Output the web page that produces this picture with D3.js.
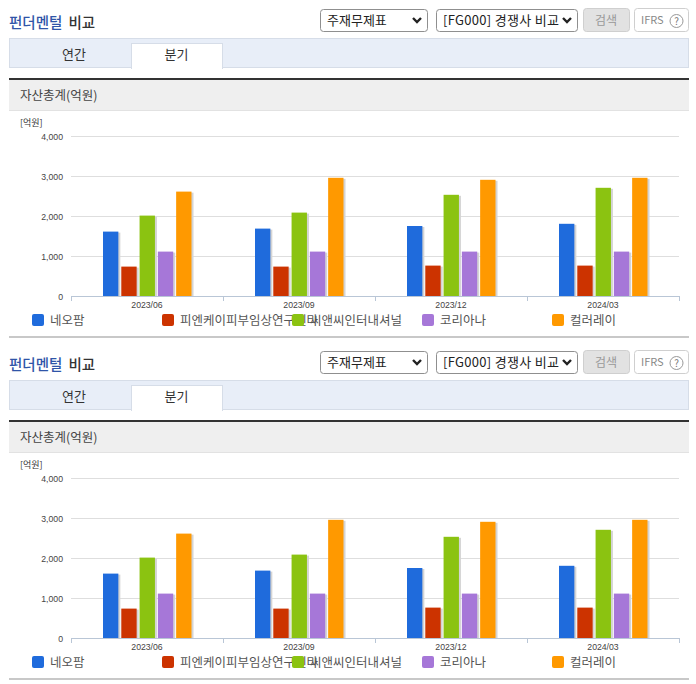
<!DOCTYPE html>
<html>
<head>
<meta charset="utf-8">
<script src="https://cdn.jsdelivr.net/npm/d3@7"></script>
<style>
  html, body { margin: 0; padding: 0; background: #fff; }
  svg { display: block; }
  text { font-family: "Noto Sans CJK KR", "Noto Sans", sans-serif; }
  .axis path, .axis line { stroke: none; }
</style>
</head>
<body>
<div id="chart-div"></div>
<script>
var periods = ["2023/06", "2023/09", "2023/12", "2024/03"];
var companies = ["네오팜", "피엔케이피부임상연구센타", "씨앤씨인터내셔널", "코리아나", "컬러레이"];
var colors = ["#1f6bdc", "#cc3300", "#8bc311", "#a677d8", "#ff9900"];

var neopharm = [1610, 1685, 1750, 1805];
var pnk = [735, 735, 760, 760];
var cnc = [2010, 2085, 2530, 2705];
var coreana = [1110, 1110, 1110, 1110];
var coloray = [2610, 2955, 2905, 2955];
var series = [neopharm, pnk, cnc, coreana, coloray];

var y_ticks = [0, 1000, 2000, 3000, 4000];
var panel_offsets = [0, 342];

var fn = {};
var vars = {};

vars.x_scale = d3.scaleBand().domain(periods).range([71, 679]);
vars.x_inner = d3.scaleBand().domain(d3.range(companies.length))
  .range([32, 120.5]).paddingInner(0.16);
vars.y_scale = d3.scaleLinear().domain([0, 4000]).range([296, 136]);

fn.draw_select = function(g, x, w, label, spacing) {
  g.append("rect").attr("x", x + 0.5).attr("y", 9.5).attr("width", w).attr("height", 22)
    .attr("rx", 3).attr("fill", "#fff").attr("stroke", "#8f8f8f");
  g.append("text").attr("x", x + 7).attr("y", 25).attr("font-size", 13).attr("fill", "#222")
    .attr("letter-spacing", spacing).text(label);
  // select arrow
  g.append("path")
    .attr("d", "M" + (x + w - 14) + ",18 l4,4 l4,-4")
    .attr("fill", "none").attr("stroke", "#222").attr("stroke-width", 2.4);
};

fn.draw_header = function(g) {
  var title = g.append("text").attr("x", 9).attr("y", 28).attr("font-size", 14.5).attr("font-weight", 500);
  title.append("tspan").attr("fill", "#2f55a8").text("펀더멘털");
  title.append("tspan").attr("fill", "#333").attr("dx", 6).text("비교");

  fn.draw_select(g, 320, 107, "주재무제표", 0);
  fn.draw_select(g, 436, 141, "[FG000] 경쟁사 비교", 0.3);

  g.append("rect").attr("x", 583.5).attr("y", 8.5).attr("width", 46).attr("height", 23)
    .attr("rx", 3).attr("fill", "#e2e2e2").attr("stroke", "#cfcfcf");
  g.append("text").attr("x", 606).attr("y", 25).attr("text-anchor", "middle")
    .attr("font-size", 12).attr("fill", "#999").text("검색");

  g.append("rect").attr("x", 634.5).attr("y", 8.5).attr("width", 54).attr("height", 23)
    .attr("rx", 3).attr("fill", "#fff").attr("stroke", "#cfcfcf");
  g.append("text").attr("x", 641).attr("y", 24).attr("font-size", 11).attr("fill", "#888").text("IFRS");
  g.append("circle").attr("cx", 676.5).attr("cy", 21).attr("r", 6.5)
    .attr("fill", "#fff").attr("stroke", "#999");
  g.append("text").attr("x", 676.5).attr("y", 25).attr("text-anchor", "middle")
    .attr("font-size", 10).attr("fill", "#777").text("?");

  // tab strip
  g.append("rect").attr("x", 9.5).attr("y", 38.5).attr("width", 679).attr("height", 29)
    .attr("fill", "#e8eef8").attr("stroke", "#d6dde8");
  g.append("rect").attr("x", 131.5).attr("y", 43.5).attr("width", 91).attr("height", 25)
    .attr("fill", "#fff").attr("stroke", "#d6dde8");
  g.append("rect").attr("x", 132).attr("y", 66).attr("width", 90).attr("height", 3).attr("fill", "#fff");
  g.append("text").attr("x", 74).attr("y", 59).attr("text-anchor", "middle")
    .attr("font-size", 13).attr("fill", "#333").text("연간");
  g.append("text").attr("x", 176.5).attr("y", 59).attr("text-anchor", "middle")
    .attr("font-size", 13).attr("fill", "#333").text("분기");

  // section heading
  g.append("rect").attr("x", 9).attr("y", 78).attr("width", 680).attr("height", 32).attr("fill", "#efefef");
  g.append("rect").attr("x", 9).attr("y", 78).attr("width", 680).attr("height", 2).attr("fill", "#333");
  g.append("rect").attr("x", 9).attr("y", 110).attr("width", 680).attr("height", 1).attr("fill", "#e2e2e2");
  g.append("text").attr("x", 20).attr("y", 100).attr("font-size", 12.5).attr("fill", "#444").text("자산총계(억원)");
  g.append("text").attr("x", 20).attr("y", 126).attr("font-size", 9).attr("fill", "#333").text("[억원]");

  g.append("rect").attr("x", 9).attr("y", 336).attr("width", 680).attr("height", 2).attr("fill", "#c8c8c8");
};

fn.draw_chart = function(g) {
  var plot_w = vars.x_scale.range();

  // gridlines
  g.append("g").selectAll("line").data(y_ticks.slice(1)).enter().append("line")
    .attr("x1", plot_w[0]).attr("x2", plot_w[1])
    .attr("y1", function(d) { return vars.y_scale(d) + 0.5; })
    .attr("y2", function(d) { return vars.y_scale(d) + 0.5; })
    .attr("stroke", "#dedede");

  var y_axis = g.append("g").attr("class", "axis")
    .attr("transform", "translate(" + plot_w[0] + ",1)")
    .call(d3.axisLeft(vars.y_scale).tickValues(y_ticks).tickSize(0).tickPadding(8)
      .tickFormat(d3.format(",")));
  y_axis.selectAll("text").attr("font-size", 8.7).attr("fill", "#444")
    .style("font-family", "'Liberation Sans', sans-serif");

  var x_axis = g.append("g").attr("class", "axis")
    .attr("transform", "translate(0,296)")
    .call(d3.axisBottom(vars.x_scale).tickSize(0).tickPadding(6));
  x_axis.selectAll("text").attr("font-size", 8.7).attr("fill", "#444")
    .style("font-family", "'Liberation Sans', sans-serif");

  // baseline and band separators
  g.append("line").attr("x1", plot_w[0]).attr("x2", plot_w[1]).attr("y1", 296.5).attr("y2", 296.5)
    .attr("stroke", "#b9c6d6");
  g.append("g").selectAll("line").data(periods.concat([null])).enter().append("line")
    .attr("x1", function(d) { return (d ? vars.x_scale(d) : plot_w[1]) + 0.5; })
    .attr("x2", function(d) { return (d ? vars.x_scale(d) : plot_w[1]) + 0.5; })
    .attr("y1", 296).attr("y2", 301)
    .attr("stroke", "#b9c6d6");

  // bars with their soft right-hand shadow
  series.forEach(function(values, s) {
    var bars = g.append("g").selectAll("g").data(values).enter().append("g");

    bars.append("rect")
      .attr("x", function(d, i) { return vars.x_scale(periods[i]) + vars.x_inner(s) + 2; })
      .attr("y", function(d) { return vars.y_scale(d) + 1; })
      .attr("width", vars.x_inner.bandwidth())
      .attr("height", function(d) { return 296 - vars.y_scale(d) - 1; })
      .attr("fill", "#d4d4d4");

    bars.append("rect")
      .attr("x", function(d, i) { return vars.x_scale(periods[i]) + vars.x_inner(s); })
      .attr("y", function(d) { return vars.y_scale(d); })
      .attr("width", vars.x_inner.bandwidth())
      .attr("height", function(d) { return 296 - vars.y_scale(d); })
      .attr("fill", colors[s]);
  });

  // legend: labels first so the next swatch sits on top of a long label, as in the original
  var legend = g.append("g").selectAll("g").data(companies).enter().append("g")
    .attr("transform", function(d, i) { return "translate(" + (32 + i * 130) + ",314)"; });

  legend.append("text").attr("x", 18).attr("y", 11).attr("font-size", 12.5).attr("fill", "#555")
    .text(function(d) { return d; });
  legend.append("rect").attr("width", 12).attr("height", 12).attr("rx", 2)
    .attr("fill", function(d, i) { return colors[i]; });
};

fn.main = function() {
  vars.svg = d3.select("#chart-div").append("svg")
    .attr("id", "chart-svg")
    .attr("width", 696)
    .attr("height", 684);

  panel_offsets.forEach(function(offset) {
    var panel = vars.svg.append("g").attr("transform", "translate(0," + offset + ")");
    fn.draw_header(panel);
    fn.draw_chart(panel);
  });
};

fn.main();
</script>
</body>
</html>
